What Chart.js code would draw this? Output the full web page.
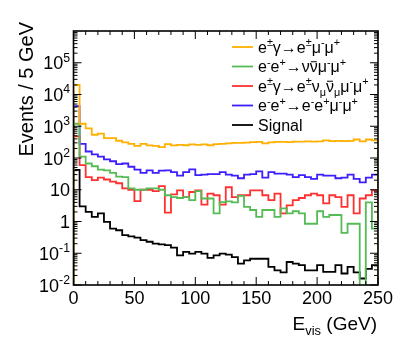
<!DOCTYPE html>
<html>
<head>
<meta charset="utf-8">
<script src="https://cdn.jsdelivr.net/npm/chart.js@4.4.0/dist/chart.umd.min.js"></script>
<style>
    html, body { margin: 0; padding: 0; background: #ffffff; }
    canvas { display: block; }
</style>
</head>
<body>
<canvas id="evisChart" width="415" height="351"></canvas>
<script>
// Lower edges of the E_vis bins (GeV), each bin is 5 GeV wide
const binWidth = 5;
const binLow = [
    0, 5, 10, 15, 20, 25, 30, 35, 40, 45,
    50, 55, 60, 65, 70, 75, 80, 85, 90, 95,
    100, 105, 110, 115, 120, 125, 130, 135, 140, 145,
    150, 155, 160, 165, 170, 175, 180, 185, 190, 195,
    200, 205, 210, 215, 220, 225, 230, 235, 240, 245
];

// Events / 5 GeV, one value per bin
const eGammaToEMuMu = [
    20000, 1200, 860, 540, 590, 425, 425, 350, 310, 280,
    240, 280, 250, 240, 220, 275, 250, 258, 252, 270,
    258, 270, 252, 274, 278, 288, 298, 300, 306, 318,
    322, 288, 310, 322, 324, 314, 326, 330, 336, 326,
    334, 360, 342, 348, 338, 346, 382, 336, 382, 360
];
const eeToNuNuMuMu = [
    1200, 110, 67, 55, 43, 41, 34, 26, 25, 11,
    10, 10, 11, 11, 10, 6.7, 5.9, 5.5, 5.9, 4.7,
    9.0, 5.3, 5.3, 1.8, 4.1, 4.3, 4.0, 6.4, 2.9, 2.3,
    1.4, 2.3, 2.3, 1.4, 2.6, 1.8, 2.1, 1.8, 0.85, 0.85,
    2.1, 1.4, 1.6, 1.6, 0.44, 0.85, 0.85, 0, 4.0, 0.6
];
const eGammaToENuNuMuMu = [
    480, 60, 25, 20, 24, 21, 18, 16, 11, 10,
    4.4, 10, 10, 9.1, 13, 1.9, 7.2, 9.6, 5.9, 8.5,
    9.6, 3.4, 7.6, 6.7, 3.4, 12, 5.9, 6.7, 6.7, 9.6,
    9.6, 6.7, 4.7, 7.6, 1.8, 3.2, 4.7, 5.5, 6.7, 7.6,
    6.7, 3.7, 6.7, 5.9, 2.9, 6.7, 1.8, 5.3, 6.7, 9.6
];
const eeToEEMuMu = [
    4300, 280, 160, 130, 110, 90, 79, 64, 67, 53,
    43, 34, 41, 34, 40, 41, 36, 28, 36, 44,
    29, 30, 31, 31, 36, 30, 28, 23, 30, 31,
    38, 24, 36, 32, 32, 30, 25, 29, 25, 22,
    30, 28, 28, 23, 24, 30, 22, 17, 24, 30
];
const signal = [
    42, 3.0, 2.0, 1.4, 1.8, 0.97, 0.60, 0.53, 0.37, 0.34,
    0.31, 0.26, 0.23, 0.20, 0.19, 0.18, 0.15, 0.086, 0.11, 0.097,
    0.11, 0.097, 0.071, 0.086, 0.097, 0.09, 0.076, 0.047, 0.06, 0.067,
    0.067, 0.067, 0.037, 0.029, 0.025, 0.053, 0.047, 0.042, 0.029, 0.029,
    0.042, 0.026, 0.026, 0.042, 0.023, 0.037, 0.025, 0.016, 0.032, 0.042
];

// Axis ticks and labels
const xTicks = [0, 50, 100, 150, 200, 250];
const yDecades = [-2, -1, 0, 1, 2, 3, 4, 5];

const FONT = '"Liberation Sans", Arial, Helvetica, sans-serif';
const FLOOR = 1e-6;   // below the axis, used for empty bins and outline ends

// Turn bin contents into a ROOT-like histogram outline
function histOutline(values) {
    const last = binLow.length - 1;
    const pts = [{ x: binLow[0], y: FLOOR }];
    values.forEach((v, i) => {
        const y = v > 0 ? v : FLOOR;
        pts.push({ x: binLow[i], y: y });
        pts.push({ x: binLow[i] + binWidth, y: y });
    });
    pts.push({ x: binLow[last] + binWidth, y: FLOOR });
    return pts;
}

function histDataset(label, values, color) {
    return {
        label: label,
        data: histOutline(values),
        borderColor: color,
        backgroundColor: color,
        borderWidth: 1.8,
        pointRadius: 0,
        tension: 0,
        fill: false
    };
}

// Split "e^{±}γ" style labels into plain / sup / sub / bar pieces
function parseRich(str) {
    const segs = [];
    let buf = '';
    let i = 0;
    const flush = () => { if (buf) { segs.push({ t: buf, mode: 'n' }); buf = ''; } };
    while (i < str.length) {
        if ((str[i] === '^' || str[i] === '_') && str[i + 1] === '{') {
            flush();
            const end = str.indexOf('}', i);
            segs.push({ t: str.slice(i + 2, end), mode: str[i] === '^' ? 'sup' : 'sub' });
            i = end + 1;
        } else if (str.startsWith('#bar{', i)) {
            flush();
            const end = str.indexOf('}', i);
            segs.push({ t: str.slice(i + 5, end), mode: 'bar' });
            i = end + 1;
        } else {
            buf += str[i];
            i++;
        }
    }
    flush();
    return segs;
}

// Draw rich text, y is the baseline
function drawRich(ctx, str, x, y, size, align) {
    const segs = parseRich(str);
    const small = size * 0.68;
    const fontFor = s => ((s.mode === 'sup' || s.mode === 'sub') ? small : size) + 'px ' + FONT;
    let total = 0;
    segs.forEach(s => {
        ctx.font = fontFor(s);
        s.w = ctx.measureText(s.t).width;
        total += s.w;
    });
    let cx = align === 'right' ? x - total : (align === 'center' ? x - total / 2 : x);
    ctx.textAlign = 'left';
    ctx.textBaseline = 'alphabetic';
    segs.forEach(s => {
        ctx.font = fontFor(s);
        let dy = 0;
        if (s.mode === 'sup') dy = -size * 0.42;
        if (s.mode === 'sub') dy = size * 0.24;
        ctx.fillText(s.t, cx, y + dy);
        if (s.mode === 'bar') {
            ctx.beginPath();
            ctx.lineWidth = 1;
            ctx.moveTo(cx + 1, y - size * 0.66);
            ctx.lineTo(cx + s.w - 1, y - size * 0.66);
            ctx.stroke();
        }
        cx += s.w;
    });
}

// Frame, inward ticks, labels, titles and legend in ROOT style
const rootStyle = {
    id: 'rootStyle',
    afterDatasetsDraw(chart) {
        const ctx = chart.ctx;
        const area = chart.chartArea;
        const xs = chart.scales.x;
        const ys = chart.scales.y;
        ctx.save();
        ctx.strokeStyle = '#000';
        ctx.fillStyle = '#000';

        // ticks on all four sides
        ctx.lineWidth = 1;
        ctx.beginPath();
        for (let v = 0; v <= 250; v += 10) {
            const px = xs.getPixelForValue(v);
            const len = v % 50 === 0 ? 8 : 4;
            ctx.moveTo(px, area.bottom); ctx.lineTo(px, area.bottom - len);
            ctx.moveTo(px, area.top); ctx.lineTo(px, area.top + len);
        }
        for (let d = -2; d < 6; d++) {
            for (let k = 1; k < 10; k++) {
                const py = ys.getPixelForValue(k * Math.pow(10, d));
                const len = k === 1 ? 8 : 4;
                ctx.moveTo(area.left, py); ctx.lineTo(area.left + len, py);
                ctx.moveTo(area.right, py); ctx.lineTo(area.right - len, py);
            }
        }
        ctx.stroke();

        // frame
        ctx.lineWidth = 1.6;
        ctx.strokeRect(area.left, area.top, area.right - area.left, area.bottom - area.top);

        // x tick labels
        xTicks.forEach(v => {
            drawRich(ctx, String(v), xs.getPixelForValue(v), area.bottom + 18.5, 18, 'center');
        });

        // y tick labels
        yDecades.forEach(d => {
            const py = ys.getPixelForValue(Math.pow(10, d));
            const txt = d === 0 ? '1' : (d === 1 ? '10' : '10^{' + d + '}');
            drawRich(ctx, txt, area.left - 3.5, py + 6.5, 18, 'right');
        });

        // axis titles
        drawRich(ctx, 'E_{vis} (GeV)', area.right - 1, 330, 19, 'right');
        ctx.save();
        ctx.translate(26, 22);
        ctx.rotate(-Math.PI / 2);
        drawRich(ctx, 'Events / 5 GeV', 0, 7, 20, 'right');
        ctx.restore();

        // legend
        chart.data.datasets.forEach((ds, i) => {
            const rowY = 47 + i * 19.5;
            ctx.strokeStyle = ds.borderColor;
            ctx.lineWidth = ds.borderWidth;
            ctx.beginPath();
            ctx.moveTo(232, rowY);
            ctx.lineTo(253, rowY);
            ctx.stroke();
            ctx.strokeStyle = '#000';
            ctx.fillStyle = '#000';
            drawRich(ctx, ds.label, 258, rowY + 5.8, 16, 'left');
        });
        ctx.restore();
    }
};

const chart = new Chart(document.getElementById('evisChart').getContext('2d'), {
    type: 'line',
    data: {
        datasets: [
            histDataset('e^{±}γ→e^{±}μ^{-}μ^{+}', eGammaToEMuMu, '#ffb000'),
            histDataset('e^{-}e^{+}→ν#bar{ν}μ^{-}μ^{+}', eeToNuNuMuMu, '#55bb55'),
            histDataset('e^{±}γ→e^{±}ν_{μ}#bar{ν}_{μ}μ^{-}μ^{+}', eGammaToENuNuMuMu, '#ff3030'),
            histDataset('e^{-}e^{+}→e^{-}e^{+}μ^{-}μ^{+}', eeToEEMuMu, '#3c1eff'),
            histDataset('Signal', signal, '#000000')
        ]
    },
    options: {
        responsive: false,
        animation: false,
        devicePixelRatio: 1,
        layout: { padding: { left: 73.5, right: 37, top: 31, bottom: 66 } },
        plugins: {
            legend: { display: false },
            tooltip: { enabled: false }
        },
        scales: {
            x: { type: 'linear', min: 0, max: 250, display: false },
            y: { type: 'logarithmic', min: 0.01, max: 1e6, display: false }
        }
    },
    plugins: [rootStyle]
});
</script>
</body>
</html>
